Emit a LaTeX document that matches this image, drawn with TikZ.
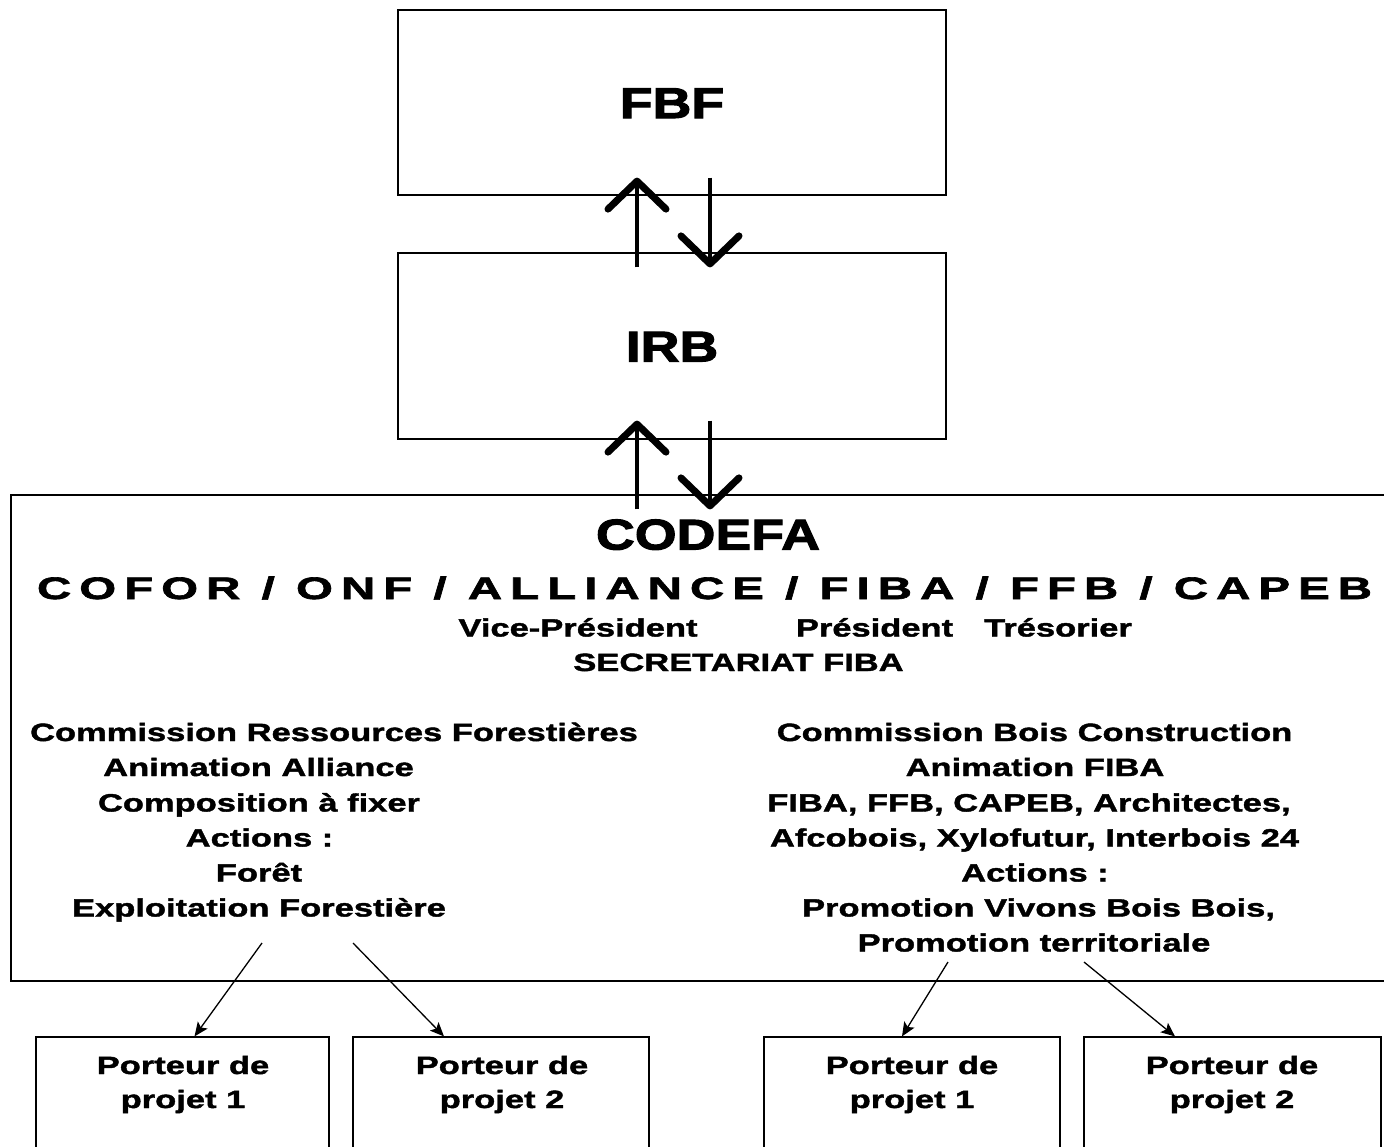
\documentclass[tikz,border=0pt]{standalone}
\usepackage{fontspec}
\setmainfont{Liberation Sans}
\newfontfamily\bigfont{Liberation Sans Bold}[FakeStretch=1.25, FakeBold=2.5]
\newfontfamily\smallfont{Liberation Sans Bold}[FakeStretch=1.38, FakeBold=1.6]
\newfontfamily\spacedfont{Liberation Sans Bold}[FakeStretch=1.3, LetterSpace=22, FakeBold=2]
\usetikzlibrary{arrows.meta,calc}
\tikzset{
  box/.style={draw, line width=1.2pt, inner sep=0pt},
  bigtxt/.style={font=\bigfont\fontsize{43}{43}\selectfont, text height=31pt, text depth=0pt, inner sep=0pt},
  spacedtxt/.style={font=\spacedfont\fontsize{31}{31}\selectfont, text height=22pt, text depth=0pt, inner sep=0pt},
  txt/.style={font=\smallfont\fontsize{25}{25}\selectfont, text height=18pt, text depth=0pt, inner sep=0pt},
  bigarrow/.style={line width=4pt, -{Straight Barb[length=28pt,width=58pt,line width=7pt,round]}},
  thinarrow/.style={line width=1.3pt, -{Stealth[length=14pt,width=12pt,inset=3pt]}},
}
\begin{document}
\begin{tikzpicture}[x=1pt,y=-1pt]
\useasboundingbox (0,0) rectangle (1384,1146);
\fill[white] (0,0) rectangle (1384,1146);
\clip (0,0) rectangle (1384,1146);

% top boxes
\node[box, bigtxt, minimum width=548pt, minimum height=185pt] (fbf) at (672,102.5) {FBF};
\node[box, bigtxt, minimum width=548pt, minimum height=186pt] (irb) at (672,346) {IRB};

% CODEFA box
\node[box, minimum width=1389pt, minimum height=486pt] (codefa) at (705.5,738) {};
\node[bigtxt] (codefaT) at (708,534) {CODEFA};
\node[spacedtxt] (members) at (704.5,588) {\resizebox{1335pt}{\height}{COFOR / ONF / ALLIANCE / FIBA / FFB / CAPEB}};
\node[txt] (vp) at (578,627.5) {Vice-Président};
\node[txt] (pres) at (874.5,627.5) {Président};
\node[txt] (tres) at (1058,627.5) {Trésorier};
\node[txt] (secr) at (738.5,662) {SECRETARIAT FIBA};

% left column
\node[txt] (l1) at (334,732) {Commission Ressources Forestières};
\node[txt] (l2) at (258.5,767) {Animation Alliance};
\node[txt] (l3) at (259,802.5) {Composition à fixer};
\node[txt] (l4) at (259.5,837.5) {Actions :};
\node[txt] (l5) at (259,872.5) {Forêt};
\node[txt] (l6) at (259,907.5) {Exploitation Forestière};

% right column
\node[txt] (r1) at (1034.5,732) {Commission Bois Construction};
\node[txt] (r2) at (1035,767) {Animation FIBA};
\node[txt] (r3) at (1029,802.5) {FIBA, FFB, CAPEB, Architectes,};
\node[txt] (r4) at (1034.5,837.5) {Afcobois, Xylofutur, Interbois 24};
\node[txt] (r5) at (1035,872.5) {Actions :};
\node[txt] (r6) at (1038.5,907.5) {Promotion Vivons Bois Bois,};
\node[txt] (r7) at (1034,942.5) {Promotion territoriale};

% bottom boxes
\node[box, minimum width=293pt, minimum height=150pt] (p1) at (182.5,1112) {};
\node[box, minimum width=296pt, minimum height=150pt] (p2) at (501,1112) {};
\node[box, minimum width=296pt, minimum height=150pt] (p3) at (912,1112) {};
\node[box, minimum width=297pt, minimum height=150pt] (p4) at (1232.5,1112) {};
\node[txt] (p1a) at (183,1065) {Porteur de};
\node[txt] (p1b) at (183,1099) {projet 1};
\node[txt] (p2a) at (502,1065) {Porteur de};
\node[txt] (p2b) at (502,1099) {projet 2};
\node[txt] (p3a) at (912,1065) {Porteur de};
\node[txt] (p3b) at (912,1099) {projet 1};
\node[txt] (p4a) at (1232,1065) {Porteur de};
\node[txt] (p4b) at (1232,1099) {projet 2};

% big double arrows
\draw[bigarrow] ($(irb.north)+(-35,15)$) -- ($(fbf.south)+(-35,-18)$);
\draw[bigarrow] ($(fbf.south)+(38,-18)$) -- ($(irb.north)+(38,15)$);
\draw[bigarrow] ($(irb.south |- codefa.north)+(-35,15)$) -- ($(irb.south)+(-35,-19)$);
\draw[bigarrow] ($(irb.south)+(38,-19)$) -- ($(irb.south |- codefa.north)+(38,15)$);

% thin arrows
\coordinate (s1) at (262,943);
\coordinate (s2) at (353,943);
\coordinate (s3) at (948,962);
\coordinate (s4) at (1084,962);
\draw[thinarrow] (s1) -- ($(p1.north)+(12,0)$);
\draw[thinarrow] (s2) -- ($(p2.north)+(-57,0)$);
\draw[thinarrow] (s3) -- ($(p3.north)+(-10,0)$);
\draw[thinarrow] (s4) -- ($(p4.north)+(-57.5,0)$);
\end{tikzpicture}
\end{document}
